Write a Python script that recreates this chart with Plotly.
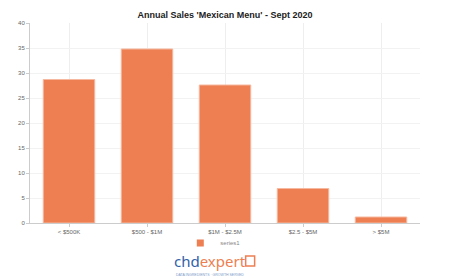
import plotly.graph_objects as go

categories = ["< $500K", "$500 - $1M", "$1M - $2.5M", "$2.5 - $5M", "> $5M"]
values = [28.7, 34.8, 27.6, 6.9, 1.2]
y_ticks = [0, 5, 10, 15, 20, 25, 30, 35, 40]

fig = go.Figure()
fig.add_trace(go.Bar(
    x=categories, y=values, name="series1",
    marker=dict(color="#EE7F52", line=dict(color="#F6B89E", width=1)),
    width=0.66, showlegend=False,
))
fig.add_trace(go.Scatter(
    x=[None], y=[None], mode="markers", name="series1",
    marker=dict(symbol="square", size=7, color="#EE7F52"), showlegend=True,
))

fig.update_layout(
    width=450, height=278,
    margin=dict(l=30, r=30, t=23, b=55, autoexpand=False),
    paper_bgcolor="white", plot_bgcolor="white",
    title=dict(text="<b>Annual Sales 'Mexican Menu' - Sept 2020</b>",
               x=0.5, xanchor="center", y=0.948, yanchor="middle",
               font=dict(family="Liberation Sans, Arial", size=9, color="#222")),
    font=dict(family="Liberation Sans, Arial", size=6, color="#666"),
    legend=dict(orientation="h", x=0.47, xanchor="center", y=-0.1, yanchor="middle",
                bgcolor="rgba(0,0,0,0)",
                font=dict(size=6, color="#888"), itemwidth=30),
    xaxis=dict(showgrid=True, gridcolor="#eeeeee", gridwidth=1,
               showline=True, linecolor="#cccccc", linewidth=1,
               ticks="outside", ticklen=3, tickcolor="#cccccc",
               tickfont=dict(size=6, color="#666")),
    yaxis=dict(range=[0, 40], tickvals=y_ticks, showgrid=True, gridcolor="#f2f2f2",
               showline=True, linecolor="#cccccc", linewidth=1,
               ticks="outside", ticklen=3, tickcolor="#cccccc",
               zeroline=False, tickfont=dict(size=6, color="#666")),
)

fig.add_annotation(xref="paper", yref="paper", x=0.4615, y=-0.19, xanchor="center", yanchor="middle",
                   text="<span style='color:#2F62A8'>chd</span><span style='color:#EE7F52'>expert</span>",
                   showarrow=False, font=dict(family="Noto Sans, Arial", size=15))
fig.add_annotation(xref="paper", yref="paper", x=0.4615, y=-0.258, xanchor="center", yanchor="middle",
                   text="DATA INGREDIENTS · GROWTH SERVED", showarrow=False,
                   font=dict(family="Liberation Sans, Arial", size=3.5, color="#7a9ac8"))
fig.add_shape(type="rect", xref="paper", yref="paper", x0=0.553, x1=0.576, y0=-0.215, y1=-0.165,
              line=dict(color="#EE7F52", width=1.5), fillcolor="rgba(0,0,0,0)")

fig.write_html("out.html")
